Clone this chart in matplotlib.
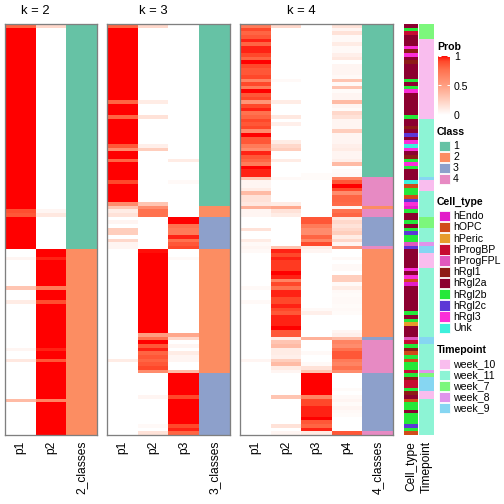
import numpy as np
import matplotlib
matplotlib.use("Agg")
import matplotlib.pyplot as plt
from matplotlib.colors import LinearSegmentedColormap, to_rgb
from matplotlib.patches import Rectangle

plt.rcParams['font.family'] = ['Liberation Sans', 'DejaVu Sans']

# membership probabilities, one value per row (113 rows, top to bottom)
K2_P1 = [0.8, 1, 1, 1, 1, 1, 1, 1, 1, 1,
         1, 1, 1, 1, 1, 1, 1, 1, 1, 1,
         1, 1, 1, 1, 1, 1, 1, 1, 1, 1,
         1, 1, 1, 1, 1, 1, 1, 1, 1, 1,
         1, 1, 1, 1, 1, 1, 1, 1, 1, 1,
         1, 0.88, 0.85, 1, 1, 1, 1, 1, 1, 1,
         1, 1, 0, 0, 0.05, 0, 0, 0, 0, 0,
         0, 0, 0.3, 0, 0, 0, 0.1, 0, 0, 0,
         0, 0, 0, 0, 0, 0, 0, 0, 0, 0.05,
         0, 0, 0.12, 0, 0, 0, 0, 0, 0, 0,
         0, 0, 0, 0.35, 0, 0, 0, 0, 0, 0,
         0, 0, 0]
K2_P2 = [0.2, 0, 0, 0, 0, 0, 0, 0, 0, 0,
         0, 0, 0, 0, 0, 0, 0, 0, 0, 0,
         0, 0, 0, 0, 0, 0, 0, 0, 0, 0,
         0, 0, 0, 0, 0, 0, 0, 0, 0, 0,
         0, 0, 0, 0, 0, 0, 0, 0, 0, 0,
         0, 0.05, 0.12, 0, 0, 0, 0, 0, 0, 0,
         0, 0, 1, 1, 0.95, 1, 1, 1, 1, 1,
         1, 1, 0.7, 1, 1, 1, 0.88, 1, 1, 1,
         1, 1, 1, 1, 1, 1, 1, 1, 1, 0.95,
         1, 1, 0.85, 1, 1, 1, 1, 1, 1, 1,
         1, 1, 1, 0.65, 1, 1, 1, 1, 1, 1,
         1, 1, 1]

K3_P1 = [0.8, 1, 1, 1, 1, 1, 1, 1, 1, 1,
         1, 1, 1, 1, 1, 1, 1, 1, 1, 1,
         1, 0.8, 1, 1, 1, 0.8, 1, 1, 1, 1,
         1, 1, 1, 0.85, 0.6, 1, 1, 0.8, 1, 1,
         1, 1, 1, 0.9, 1, 1, 1, 1, 1, 0.6,
         0.3, 0.1, 0.15, 0, 0.05, 0, 0.25, 0.25, 0, 0.2,
         0.05, 0.05, 0, 0, 0, 0, 0, 0, 0, 0,
         0, 0, 0, 0, 0, 0, 0, 0, 0, 0,
         0, 0, 0, 0, 0, 0, 0, 0, 0, 0,
         0, 0, 0.1, 0, 0, 0, 0, 0, 0, 0,
         0, 0, 0, 0, 0, 0, 0, 0, 0, 0,
         0, 0, 0]
K3_P2 = [0.2, 0, 0, 0, 0, 0, 0, 0, 0, 0,
         0, 0, 0, 0, 0, 0, 0, 0, 0, 0,
         0, 0.1, 0, 0, 0, 0.15, 0, 0, 0, 0,
         0, 0, 0, 0.08, 0.25, 0, 0, 0, 0, 0,
         0, 0, 0, 0, 0, 0, 0, 0, 0, 0.3,
         0.6, 0.75, 0.75, 0, 0, 0, 0, 0, 0, 0,
         0, 0, 0.98, 1, 1, 1, 1, 1, 1, 1,
         1, 1, 1, 1, 1, 1, 1, 1, 1, 1,
         1, 1, 1, 1, 1, 0.5, 0.75, 1, 0.85, 0.95,
         0.8, 0.85, 0.8, 0.85, 0.9, 0.6, 0, 0, 0, 0,
         0, 0, 0.05, 0, 0, 0, 0, 0, 0, 0,
         0.03, 0, 0.15]
K3_P3 = [0, 0, 0, 0, 0, 0, 0, 0, 0, 0,
         0, 0, 0, 0, 0, 0, 0, 0, 0, 0,
         0, 0, 0, 0, 0, 0, 0, 0, 0, 0,
         0, 0, 0, 0, 0, 0, 0, 0.1, 0, 0,
         0, 0, 0, 0.03, 0, 0, 0, 0, 0, 0,
         0, 0, 0, 1, 1, 0.75, 0.7, 0.7, 0.95, 0.75,
         0.85, 0.9, 0, 0, 0.03, 0, 0, 0, 0, 0,
         0, 0, 0, 0, 0, 0, 0, 0, 0, 0,
         0, 0, 0, 0, 0, 0.45, 0.2, 0, 0.05, 0,
         0.1, 0.05, 0.05, 0, 0, 0.35, 1, 1, 1, 1,
         1, 1, 0.9, 1, 1, 1, 1, 1, 1, 1,
         0.9, 0.95, 0.8]

K4_P1 = [0.7, 0.9, 0.8, 0.85, 0.95, 0.8, 0.95, 0.95, 0.9, 0.8,
         1.0, 0.9, 0.85, 0.85, 0.9, 0.65, 0.9, 0.7, 1.0, 0.85,
         0.9, 0.55, 0.9, 0.95, 0.75, 0.8, 0.9, 0.85, 0.9, 0.6,
         1.0, 0.85, 0.85, 0.7, 0.6, 0.95, 0.85, 0.8, 0.7, 1.0,
         0.95, 0.95, 0.3, 0.05, 0.05, 0.1, 0.35, 0.15, 0.15, 0.12,
         0.4, 0.05, 0.05, 0, 0, 0, 0.15, 0, 0, 0.1,
         0.03, 0.05, 0.03, 0, 0, 0, 0, 0, 0, 0,
         0, 0, 0.03, 0, 0, 0, 0.03, 0, 0, 0,
         0, 0, 0, 0, 0, 0, 0, 0, 0, 0,
         0, 0, 0.05, 0, 0, 0, 0, 0, 0, 0,
         0, 0, 0, 0, 0, 0, 0, 0, 0, 0,
         0, 0, 0]
K4_P2 = [0.2, 0, 0, 0, 0, 0, 0, 0, 0, 0,
         0, 0, 0, 0, 0, 0.03, 0, 0, 0, 0,
         0, 0.1, 0, 0, 0, 0.12, 0, 0.08, 0, 0,
         0, 0, 0.1, 0.2, 0.25, 0, 0, 0.1, 0, 0,
         0, 0, 0.03, 0, 0, 0, 0, 0, 0, 0.1,
         0.45, 0.15, 0.1, 0, 0, 0, 0, 0, 0, 0,
         0, 0.3, 0.95, 0.9, 0.95, 0.92, 0.92, 0.92, 1.0, 0.95,
         0.65, 0.9, 0.75, 0.95, 0.95, 0.9, 0.9, 0.95, 0.9, 0.85,
         0.95, 0.95, 0.95, 1.0, 0.85, 0.85, 0.1, 0.3, 0.35, 0.1,
         0.1, 0.08, 0.25, 0.35, 0.1, 0.05, 0, 0, 0, 0,
         0, 0, 0.3, 0, 0, 0, 0, 0, 0, 0,
         0.15, 0, 0.05]
K4_P3 = [0, 0, 0, 0, 0, 0, 0, 0, 0, 0,
         0, 0, 0, 0, 0, 0, 0, 0, 0, 0,
         0, 0, 0, 0, 0, 0, 0, 0, 0, 0,
         0, 0, 0, 0, 0, 0, 0, 0, 0, 0,
         0, 0.02, 0.02, 0, 0, 0, 0, 0, 0, 0,
         0, 0, 0, 0.85, 0.85, 0.7, 0.6, 0.6, 0.8, 0.65,
         0.9, 0.1, 0.05, 0, 0, 0, 0, 0, 0, 0,
         0, 0, 0, 0, 0, 0, 0, 0, 0.03, 0.08,
         0, 0, 0, 0, 0, 0, 0.4, 0, 0, 0,
         0.03, 0, 0, 0.03, 0.15, 0.3, 1, 1, 1, 1,
         1, 1, 0.65, 0.9, 0.9, 0.95, 0.95, 0.95, 1.0, 0.85,
         0.8, 0.95, 0.1]
K4_P4 = [0.15, 0.05, 0.15, 0.03, 0.03, 0.1, 0.03, 0.03, 0.08, 0.12,
         0, 0.05, 0.05, 0.05, 0.03, 0.3, 0.03, 0.3, 0.02, 0.05,
         0.05, 0.35, 0.05, 0.02, 0.2, 0.15, 0.05, 0.05, 0.05, 0.25,
         0.05, 0.05, 0.05, 0.08, 0.1, 0.05, 0.05, 0.08, 0.35, 0,
         0.02, 0.03, 0.65, 0.85, 1.0, 0.9, 0.6, 0.8, 0.8, 0.78,
         0.05, 0.75, 0.8, 0.12, 0.2, 0.15, 0.2, 0.25, 0.1, 0.2,
         0.05, 0.55, 0, 0, 0.03, 0, 0.03, 0.03, 0, 0.25,
         0.25, 0.03, 0.1, 0.03, 0.02, 0.03, 0.03, 0.02, 0.03, 0.02,
         0, 0, 0, 0, 0.05, 0.08, 0.35, 0.65, 0.6, 0.75,
         0.85, 0.85, 0.7, 0.65, 0.75, 0.6, 0, 0, 0, 0,
         0.02, 0, 0.03, 0.05, 0.02, 0.05, 0.03, 0.02, 0, 0,
         0, 0, 0.85]

# class calls as (class, number of consecutive rows)
K2_CLASS = [(1, 62), (2, 51)]
K3_CLASS = [(1, 50), (2, 3), (3, 9), (2, 34), (3, 17)]
K4_CLASS = [(1, 42), (4, 8), (2, 1), (4, 2), (3, 8), (4, 1), (2, 24),
            (3, 1), (4, 9), (3, 16), (4, 1)]

CELL_TYPE = [("hRgl2a", 1), ("hRgl2b", 1), ("hProgBP", 1), ("hRgl2a", 3),
             ("hRgl3", 1), ("hRgl1", 1), ("hRgl3", 1), ("hRgl2a", 1),
             ("hRgl1", 1), ("hRgl2a", 4), ("hRgl2b", 1), ("hRgl2a", 1),
             ("hRgl2b", 1), ("hRgl3", 1), ("hRgl2a", 6), ("hRgl2b", 1),
             ("hRgl2a", 2), ("hRgl1", 1), ("hRgl2a", 1), ("hRgl2c", 1),
             ("hRgl2a", 1), ("hRgl3", 1), ("Unk", 1), ("hRgl3", 1),
             ("hRgl2a", 1), ("hRgl1", 1), ("hRgl2b", 1), ("hRgl3", 1),
             ("hRgl2b", 1), ("hRgl2a", 3), ("Unk", 1), ("hOPC", 1),
             ("hRgl2b", 2), ("hOPC", 1), ("hRgl2c", 1), ("hRgl3", 1),
             ("hEndo", 1), ("hRgl2b", 1), ("hRgl2a", 2), ("hRgl2b", 1),
             ("hRgl2a", 1), ("hRgl2b", 1), ("hRgl2c", 1), ("hRgl2b", 2),
             ("hProgFPL", 1), ("hRgl2c", 1), ("hRgl2a", 5), ("hRgl3", 1),
             ("hRgl2a", 1), ("hRgl3", 1), ("hOPC", 1), ("hEndo", 1),
             ("hRgl2a", 7), ("hRgl2b", 1), ("hRgl2a", 1), ("hRgl2b", 1),
             ("hPeric", 1), ("hRgl2a", 3), ("hProgFPL", 1), ("hProgBP", 1),
             ("hRgl2b", 1), ("hRgl1", 1), ("hOPC", 1), ("hRgl2b", 1),
             ("hOPC", 1), ("hRgl2b", 2), ("hProgBP", 1), ("hRgl2b", 1),
             ("hRgl1", 1), ("hProgBP", 2), ("hRgl2b", 1), ("hRgl1", 1),
             ("hRgl2a", 1), ("hOPC", 1), ("hRgl2b", 2), ("hRgl2a", 1),
             ("hRgl2b", 3), ("hRgl2c", 1), ("hRgl2b", 1), ("hOPC", 1)]

TIMEPOINT = [("week_7", 4), ("week_10", 22), ("week_11", 16), ("week_9", 1),
             ("week_10", 3), ("week_11", 7), ("week_7", 3), ("week_11", 4),
             ("week_8", 1), ("week_9", 2), ("week_10", 4), ("week_11", 19),
             ("week_9", 2), ("week_11", 7), ("week_8", 1), ("week_7", 1),
             ("week_9", 4), ("week_10", 2), ("week_11", 10)]

CLASS_COLORS = {1: "#66C2A5", 2: "#FC8D62", 3: "#8DA0CB", 4: "#E78AC3"}
CELL_COLORS = {"hEndo": "#E21CC9", "hOPC": "#D14B19", "hPeric": "#E79C2B",
               "hProgBP": "#C70C32", "hProgFPL": "#E158BF", "hRgl1": "#8E1B16",
               "hRgl2a": "#8C0030", "hRgl2b": "#25E83A", "hRgl2c": "#5C38D6",
               "hRgl3": "#FA2ED8", "Unk": "#3DF0DC"}
TIME_COLORS = {"week_10": "#F9BDEE", "week_11": "#8DF4D5", "week_7": "#7CF77C",
               "week_8": "#E094EB", "week_9": "#86D6F2"}

# white -> red ramp (interpolated in Lab like colorRamp2)
prob_cmap = LinearSegmentedColormap.from_list("prob", [
    (0.0, (1, 1, 1)), (0.25, (1, 207 / 255, 190 / 255)),
    (0.5, (1, 158 / 255, 129 / 255)), (0.75, (1, 115 / 255, 80 / 255)),
    (0.9, (1, 74 / 255, 43 / 255)), (1.0, (1, 0, 0))])


def expand(runs):
    out = []
    for val, n in runs:
        out += [val] * n
    return out


def px(x, y, w, h):
    # pixel box (top-left origin) -> figure fraction
    return [x / 504, 1 - (y + h) / 504, w / 504, h / 504]


fig = plt.figure(figsize=(7, 7), dpi=72)
TOP, HEIGHT = 24, 411

panels = [
    ("k = 2", 5, 92, [K2_P1, K2_P2], K2_CLASS),
    ("k = 3", 107, 123, [K3_P1, K3_P2, K3_P3], K3_CLASS),
    ("k = 4", 240, 153, [K4_P1, K4_P2, K4_P3, K4_P4], K4_CLASS),
]

for title, x0, w, probs, cls in panels:
    ax = fig.add_axes(px(x0, TOP, w, HEIGHT))
    cols = [prob_cmap(np.array(p, dtype=float))[:, :3] for p in probs]
    cols.append(np.array([to_rgb(CLASS_COLORS[c]) for c in expand(cls)]))
    rgb = np.stack(cols, axis=1)
    ax.imshow(rgb, aspect="auto", interpolation="nearest")
    k = len(probs)
    labels = [f"p{i + 1}" for i in range(k)] + [f"{k}_classes"]
    ax.set_xticks(range(k + 1))
    ax.set_xticklabels(labels, rotation=90, fontsize=12)
    ax.set_yticks([])
    ax.tick_params(axis="x", length=0, pad=6)
    for s in ax.spines.values():
        s.set_color("#7f7f7f")
        s.set_linewidth(1.3)
    cx = (x0 + w * k / (k + 1)) / 2 + x0 / 2
    fig.text((x0 + w * k / (k + 1) / 2) / 504, 1 - 11 / 504, title,
             ha="center", va="center", fontsize=13)

for name, x0, w, runs, cmap in [("Cell_type", 404, 14, CELL_TYPE, CELL_COLORS),
                                ("Timepoint", 419, 15, TIMEPOINT, TIME_COLORS)]:
    ax = fig.add_axes(px(x0, TOP, w, HEIGHT))
    rgb = np.array([to_rgb(cmap[v]) for v in expand(runs)])[:, None, :]
    ax.imshow(rgb, aspect="auto", interpolation="nearest")
    ax.set_xticks([0])
    ax.set_xticklabels([name], rotation=90, fontsize=12)
    ax.set_yticks([])
    ax.tick_params(axis="x", length=0, pad=6)
    for s in ax.spines.values():
        s.set_visible(False)

# legends
lax = fig.add_axes([0, 0, 1, 1])
lax.set_xlim(0, 504)
lax.set_ylim(504, 0)
lax.axis("off")

LX, TX = 439, 453
lax.text(437, 47.5, "Prob", fontsize=10.5, fontweight="bold", va="center")
cax = fig.add_axes(px(438, 56, 12, 59))
grad = np.linspace(0, 1, 200)[:, None]
cax.imshow(grad, cmap=prob_cmap, aspect="auto", origin="lower",
           extent=[0, 1, 0, 1])
cax.set_xticks([])
cax.yaxis.tick_right()
cax.set_yticks([0, 0.5, 1])
cax.set_yticklabels(["0", "0.5", "1"], fontsize=10.5)
cax.tick_params(axis="y", direction="in", color="white", length=3, width=1,
                left=True, pad=4)
for s in cax.spines.values():
    s.set_visible(False)


def cat_legend(title, ty, names, colors, step):
    lax.text(437, ty, title, fontsize=10.5, fontweight="bold", va="center")
    for i, n in enumerate(names):
        y = ty + 9 + i * step
        lax.add_patch(Rectangle((LX, y), 11, step - 0.8, facecolor=colors[n],
                                edgecolor="white", lw=0.8))
        lax.text(TX, y + step / 2, str(n), fontsize=10.5, va="center")


cat_legend("Class", 132, [1, 2, 3, 4], CLASS_COLORS, 10.9)
cat_legend("Cell_type", 201.5, list(CELL_COLORS), CELL_COLORS, 11.2)
cat_legend("Timepoint", 350, list(TIME_COLORS), TIME_COLORS, 11.0)

fig.savefig("out.png", dpi=72)
